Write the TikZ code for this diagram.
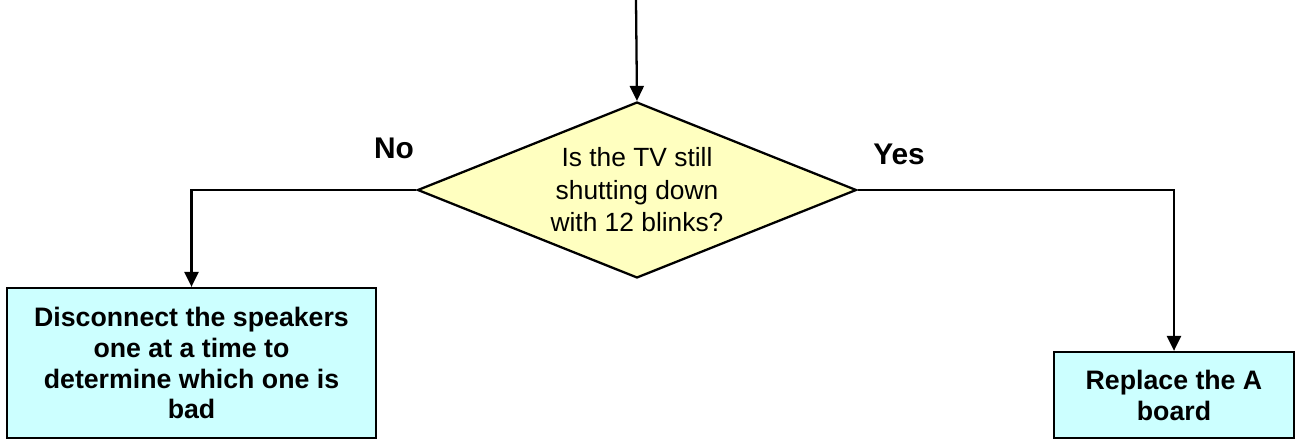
\documentclass[tikz,border=0pt]{standalone}
\usepackage{fontspec}
\setmainfont{Liberation Sans}
\usetikzlibrary{shapes.geometric, arrows.meta, positioning}

\definecolor{qfill}{HTML}{FFFFC0}
\definecolor{boxfill}{HTML}{CCFFFF}

\begin{document}
\begin{tikzpicture}[
  x=0.02cm, y=-0.02cm,
  question/.style={diamond, draw, line width=1.3pt, fill=qfill, aspect=2.5,
    minimum width=8.78cm, minimum height=3.52cm, inner sep=0pt, align=center,
    font=\fontsize{15}{18.5}\selectfont},
  action/.style={rectangle, draw, line width=1.3pt, fill=boxfill, align=center,
    font=\bfseries\fontsize{15.2}{17.6}\selectfont},
  lbl/.style={font=\bfseries\fontsize{17}{20}\selectfont},
  arrowline/.style={-{Triangle[length=0.3cm, width=0.28cm]}, line width=1.3pt}
]
  \useasboundingbox (0,0) rectangle (1296,440);

  % QUESTION
  \node[question] (q) at (637,190) {Is the TV still\\shutting down\\with 12 blinks?};
  \coordinate (start) at (636,0);
  \draw[arrowline] (start) -- (q.north);

  % NO
  \node[action, minimum width=7.38cm, minimum height=3.0cm] (speakers) at (191.5,363)
    {Disconnect the speakers\\one at a time to\\determine which one is\\bad};
  \node[lbl] (no) at (394,148) {No};
  \draw[arrowline] (q.west) -| (speakers.north);

  % YES
  \node[action, minimum width=4.8cm, minimum height=1.72cm] (aboard) at (1174,395)
    {Replace the A\\board};
  \node[lbl] (yes) at (899,154) {Yes};
  \draw[arrowline] (q.east) -| (aboard.north);

\end{tikzpicture}
\end{document}
